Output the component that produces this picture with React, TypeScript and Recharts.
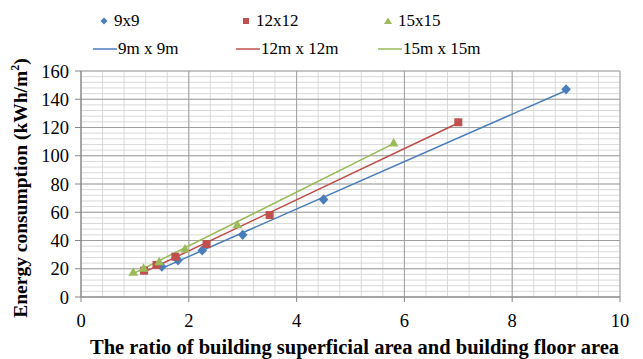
import * as React from "react"
import { ScatterChart, Scatter, XAxis, YAxis, CartesianGrid } from "recharts"

// ratio of building superficial area / floor area vs energy use
const ratio9 = [1.5, 1.8, 2.25, 3, 4.5, 9]
const energy9 = [21.5, 26, 33, 44, 69, 147]
const ratio12 = [1.17, 1.4, 1.75, 2.33, 3.5, 7]
const energy12 = [18.6, 22.7, 28.5, 37.5, 58, 123.7]
const ratio15 = [0.97, 1.16, 1.45, 1.93, 2.9, 5.8]
const energy15 = [17.5, 20.3, 25, 34, 51.2, 109]

// linear trend lines (end points)
const trendX9 = [1.5, 9]
const trendY9 = [20.3, 146.2]
const trendX12 = [1.17, 7]
const trendY12 = [17.6, 123.2]
const trendX15 = [0.97, 5.8]
const trendY15 = [16.6, 108.6]

const xTicks = [0, 2, 4, 6, 8, 10]
const yTicks = [0, 20, 40, 60, 80, 100, 120, 140, 160]
const X_MAX = 10
const Y_MAX = 160

const pts = (xs: number[], ys: number[]) => xs.map((x, i) => ({ x, y: ys[i] }))

const BLUE = "#4A7EBB"
const RED = "#C0504D"
const GREEN = "#9BBB59"
const FONT = "'Liberation Serif', 'Times New Roman', serif"

const minorX: number[] = []
for (let i = 0; i <= 25; i++) minorX.push(+(i * 0.4).toFixed(1))
const minorY: number[] = []
for (let i = 0; i <= 40; i++) minorY.push(i * 4)

// grid line positions inside the plot box
const gridX = (vals: number[]) => ({ offset }: any) => vals.map((v) => offset.left + (offset.width * v) / X_MAX)
const gridY = (vals: number[]) => ({ offset }: any) => vals.map((v) => offset.top + offset.height * (1 - v / Y_MAX))

const Diamond = ({ cx, cy }: any) => (
  <polygon points={`${cx},${cy - 5.2} ${cx + 4.8},${cy} ${cx},${cy + 5.2} ${cx - 4.8},${cy}`} fill={BLUE} />
)
const Square = ({ cx, cy }: any) => <rect x={cx - 4} y={cy - 4} width={8} height={8} fill={RED} />
const Triangle = ({ cx, cy }: any) => (
  <polygon points={`${cx},${cy - 5} ${cx + 4.8},${cy + 3.5} ${cx - 4.8},${cy + 3.5}`} fill={GREEN} />
)
const NoDot = () => <g />

const YTitle = ({ viewBox }: any) => {
  const cy = viewBox.y + viewBox.height / 2 + 4
  return (
    <text x={27} y={cy} transform={`rotate(-90, 27, ${cy})`} textAnchor="middle" fontFamily={FONT} fontSize={19.5} fontWeight="bold" fill="#000">
      Energy consumption (kWh/m<tspan fontSize={12} dy={-8}>2</tspan>
      <tspan dy={8}>)</tspan>
    </text>
  )
}

const XTitle = ({ viewBox }: any) => (
  <text x={viewBox.x + viewBox.width / 2 + 4} y={354} textAnchor="middle" fontFamily={FONT} fontSize={20.5} fontWeight="bold" fill="#000">
    The ratio of building superficial area and building floor area
  </text>
)

function LegendItem({ x, y, kind, color, label }: { x: number; y: number; kind: string; color: string; label: string }) {
  return (
    <div style={{ position: "absolute", left: x, top: y - 10, height: 20, display: "flex", alignItems: "center", fontFamily: FONT, fontSize: 17, color: "#000", whiteSpace: "nowrap" }}>
      {kind === "line" ? (
        <svg width={24} height={20} style={{ marginRight: 1 }}>
          <line x1={0} y1={10} x2={24} y2={10} stroke={color} strokeWidth={1.5} />
        </svg>
      ) : (
        <svg width={14} height={20}>
          {kind === "diamond" && <polygon points="4,6.5 7.5,10 4,13.5 0.5,10" fill={color} />}
          {kind === "square" && <rect x={1} y={7} width={6} height={6} fill={color} />}
          {kind === "triangle" && <polygon points="4,6.5 8,13 0,13" fill={color} />}
        </svg>
      )}
      <span>{label}</span>
    </div>
  )
}

export default function App() {
  return (
    <div style={{ position: "absolute", left: 0, top: 0, width: 643, height: 359, background: "#fff" }}>
      <ScatterChart width={643} height={359} margin={{ top: 71, right: 23, left: 0, bottom: 0 }}>
        <CartesianGrid
          stroke="#d9d9d9"
          strokeWidth={1}
          horizontalCoordinatesGenerator={gridY(minorY)}
          verticalCoordinatesGenerator={gridX(minorX)}
        />
        <CartesianGrid
          stroke="#a0a0a0"
          strokeWidth={1}
          horizontalCoordinatesGenerator={gridY(yTicks)}
          verticalCoordinatesGenerator={gridX(xTicks)}
        />
        <XAxis
          type="number"
          dataKey="x"
          domain={[0, X_MAX]}
          ticks={xTicks}
          height={62}
          tick={{ fontSize: 18.5, fill: "#000", fontFamily: FONT }}
          tickSize={5}
          tickMargin={12}
          stroke="#868686"
          label={<XTitle />}
        />
        <YAxis
          type="number"
          dataKey="y"
          domain={[0, Y_MAX]}
          ticks={yTicks}
          width={81}
          tick={{ fontSize: 18.5, fill: "#000", fontFamily: FONT }}
          tickSize={6}
          tickMargin={6}
          stroke="#868686"
          label={<YTitle />}
        />
        <Scatter data={pts(trendX9, trendY9)} line={{ stroke: BLUE, strokeWidth: 1.5 }} shape={<NoDot />} isAnimationActive={false} />
        <Scatter data={pts(trendX12, trendY12)} line={{ stroke: "#BE4B48", strokeWidth: 1.5 }} shape={<NoDot />} isAnimationActive={false} />
        <Scatter data={pts(trendX15, trendY15)} line={{ stroke: "#98B954", strokeWidth: 1.5 }} shape={<NoDot />} isAnimationActive={false} />
        <Scatter data={pts(ratio9, energy9)} shape={<Diamond />} isAnimationActive={false} />
        <Scatter data={pts(ratio12, energy12)} shape={<Square />} isAnimationActive={false} />
        <Scatter data={pts(ratio15, energy15)} shape={<Triangle />} isAnimationActive={false} />
      </ScatterChart>
      <LegendItem x={100} y={21} kind="diamond" color={BLUE} label="9x9" />
      <LegendItem x={242} y={21} kind="square" color={RED} label="12x12" />
      <LegendItem x={384} y={21} kind="triangle" color={GREEN} label="15x15" />
      <LegendItem x={93} y={49} kind="line" color={BLUE} label="9m x 9m" />
      <LegendItem x={236} y={49} kind="line" color={RED} label="12m x 12m" />
      <LegendItem x={378} y={49} kind="line" color={GREEN} label="15m x 15m" />
    </div>
  )
}
